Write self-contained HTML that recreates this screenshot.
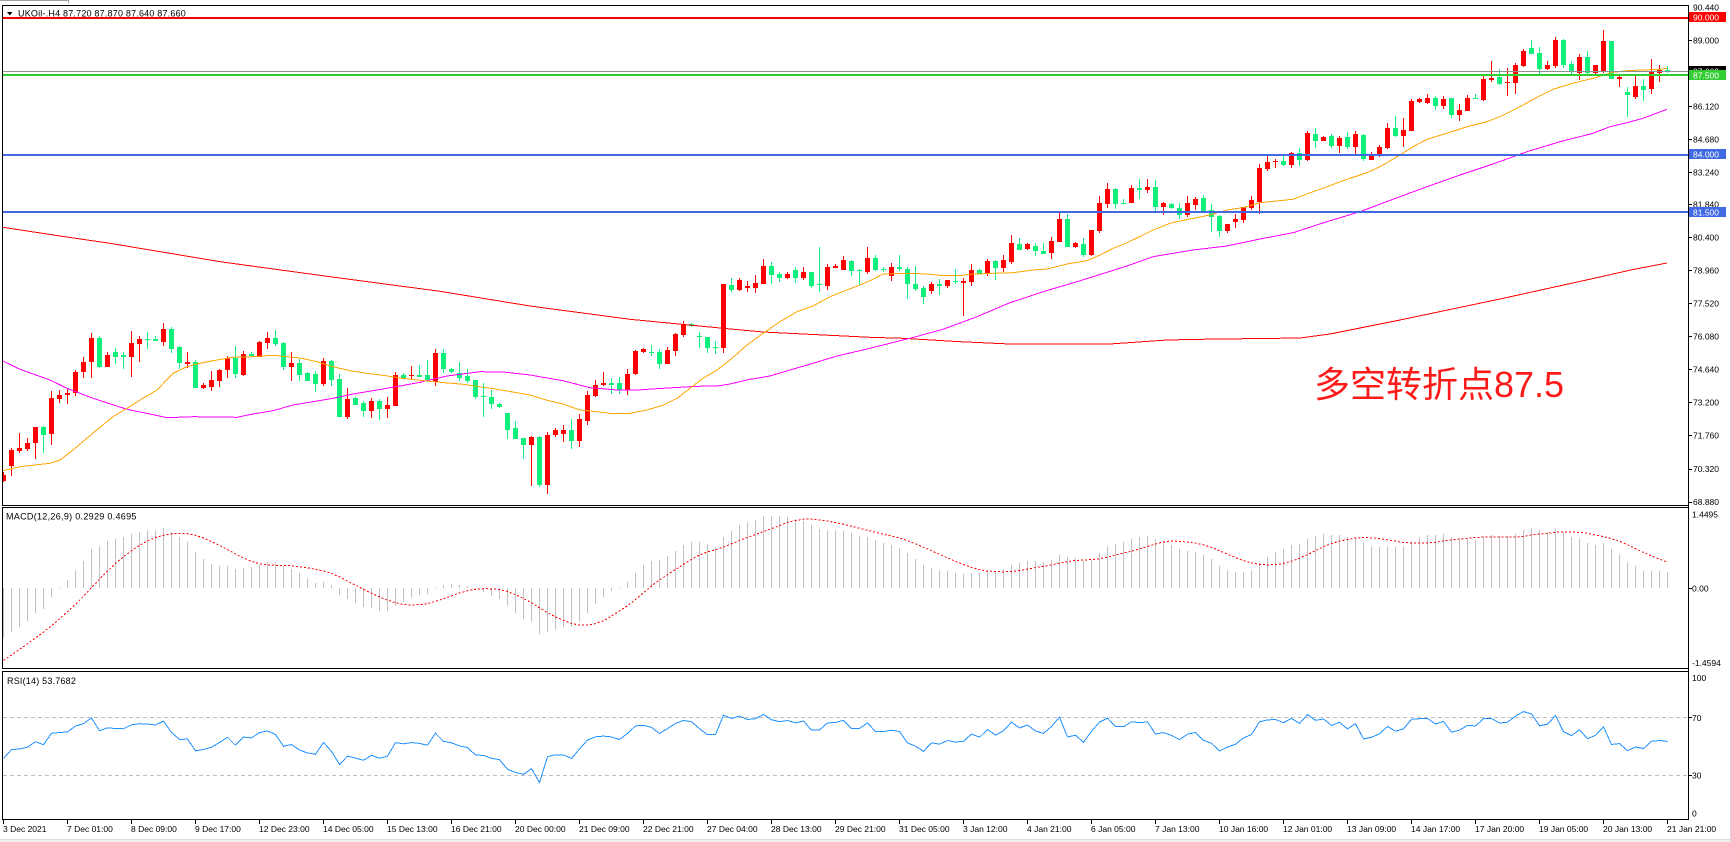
<!DOCTYPE html>
<html><head><meta charset="utf-8">
<style>
html,body{margin:0;padding:0;background:#fff;}
body{width:1731px;height:842px;overflow:hidden;position:relative;}
svg{position:absolute;left:0;top:0;}
text{font-family:"Liberation Sans",sans-serif;font-size:8.5px;fill:#000;}
.w{fill:#fff;}
</style></head><body>
<svg id="s" width="1731" height="842" viewBox="0 0 1731 842" shape-rendering="crispEdges">
<defs>
<clipPath id="cm"><rect x="3" y="6" width="1685" height="499"/></clipPath>
<clipPath id="cd"><rect x="3" y="508" width="1685" height="160"/></clipPath>
<clipPath id="cr"><rect x="3" y="672" width="1685" height="147"/></clipPath>
</defs>
<rect x="0" y="0" width="1731" height="842" fill="#fff"/>
<rect x="0" y="0" width="68" height="1" fill="#a0a0a0"/>
<rect x="68" y="0" width="1" height="3" fill="#a0a0a0"/>
<rect x="0" y="839" width="1731" height="3" fill="#efefef"/>
<rect x="0" y="839" width="1731" height="1" fill="#dadada"/>
<rect x="1730" y="0" width="1" height="842" fill="#d8d8d8"/>

<!-- main pane content -->
<g clip-path="url(#cm)">
  <g id="cdl"></g>
  <g id="ma"></g>
  <rect x="3" y="17" width="1685" height="2" fill="#ff0000"/>
  <rect x="3" y="71" width="1685" height="1" fill="#909090"/>
  <rect x="3" y="74" width="1685" height="2" fill="#32cd32"/>
  <rect x="3" y="154" width="1685" height="2" fill="#4169e1"/>
  <rect x="3" y="211" width="1685" height="2" fill="#4169e1"/>
</g>
<g clip-path="url(#cd)"><g id="macd"></g></g>
<g clip-path="url(#cr)">
  <line x1="3" y1="717.5" x2="1688" y2="717.5" stroke="#c0c0c0" stroke-dasharray="4,3"/>
  <line x1="3" y1="775.5" x2="1688" y2="775.5" stroke="#c0c0c0" stroke-dasharray="4,3"/>
  <g id="rsi"></g>
</g>

<!-- pane borders -->
<rect x="2" y="5" width="1" height="500" fill="#000"/>
<rect x="2" y="5" width="1687" height="1" fill="#000"/>
<rect x="2" y="505" width="1687" height="1" fill="#000"/>
<rect x="2" y="507" width="1687" height="1" fill="#000"/>
<rect x="2" y="507" width="1" height="162" fill="#000"/>
<rect x="2" y="668" width="1687" height="1" fill="#000"/>
<rect x="2" y="671" width="1687" height="1" fill="#000"/>
<rect x="2" y="671" width="1" height="149" fill="#000"/>
<rect x="2" y="819" width="1687" height="1" fill="#000"/>
<rect x="1688" y="5" width="1" height="815" fill="#000"/>

<!-- header -->
<polygon points="7,12 12.5,12 9.75,15.5" fill="#000" shape-rendering="auto"/>
<text x="18" y="16.5" style="font-size:9px;letter-spacing:0.2px">UKOil-.H4  87.720 87.870 87.640 87.660</text>
<text x="6" y="519.5" style="font-size:9px;letter-spacing:0.3px">MACD(12,26,9) 0.2929 0.4695</text>
<text x="7" y="684" style="font-size:9px;letter-spacing:0.2px">RSI(14) 53.7682</text>

<!-- price axis ticks -->
<g fill="#000">
<rect x="1688" y="40" width="4" height="1"/><rect x="1688" y="106" width="4" height="1"/>
<rect x="1688" y="139" width="4" height="1"/><rect x="1688" y="172" width="4" height="1"/>
<rect x="1688" y="204" width="4" height="1"/><rect x="1688" y="237" width="4" height="1"/>
<rect x="1688" y="270" width="4" height="1"/><rect x="1688" y="303" width="4" height="1"/>
<rect x="1688" y="336" width="4" height="1"/><rect x="1688" y="369" width="4" height="1"/>
<rect x="1688" y="402" width="4" height="1"/><rect x="1688" y="435" width="4" height="1"/>
<rect x="1688" y="469" width="4" height="1"/><rect x="1688" y="502" width="4" height="1"/>
<rect x="1688" y="588" width="4" height="1"/><rect x="1688" y="717" width="4" height="1"/>
<rect x="1688" y="775" width="4" height="1"/>
</g>
<text x="1693" y="10.5">90.440</text>
<text x="1693" y="43.5">89.000</text>
<text x="1693" y="109.5">86.120</text>
<text x="1693" y="142.5">84.680</text>
<text x="1693" y="175.5">83.240</text>
<text x="1693" y="207.5">81.840</text>
<text x="1693" y="240.5">80.400</text>
<text x="1693" y="273.5">78.960</text>
<text x="1693" y="306.5">77.520</text>
<text x="1693" y="339.5">76.080</text>
<text x="1693" y="372.5">74.640</text>
<text x="1693" y="405.5">73.200</text>
<text x="1693" y="438.5">71.760</text>
<text x="1693" y="472">70.320</text>
<text x="1693" y="505">68.880</text>

<rect x="1689" y="12" width="37" height="10" fill="#ff0000"/>
<text class="w" x="1693" y="20.5">90.000</text>
<rect x="1689" y="66" width="37" height="10" fill="#000"/>
<text class="w" x="1693" y="74.5">87.660</text>
<rect x="1689" y="70" width="37" height="10" fill="#32cd32"/>
<text class="w" x="1693" y="78.5">87.500</text>
<rect x="1689" y="149" width="37" height="10" fill="#4169e1"/>
<text class="w" x="1693" y="157.5">84.000</text>
<rect x="1689" y="207" width="37" height="10" fill="#4169e1"/>
<text class="w" x="1693" y="215.5">81.500</text>

<text x="1692" y="517.5">1.4495</text>
<text x="1692" y="591.5">0.00</text>
<text x="1692" y="666">-1.4594</text>
<text x="1692" y="681">100</text>
<text x="1692" y="721">70</text>
<text x="1692" y="778.5">30</text>
<text x="1692" y="816.5">0</text>

<!-- time axis -->
<g fill="#000">
<rect x="3" y="819" width="1" height="5"/><rect x="67" y="819" width="1" height="5"/><rect x="131" y="819" width="1" height="5"/>
<rect x="195" y="819" width="1" height="5"/><rect x="259" y="819" width="1" height="5"/><rect x="323" y="819" width="1" height="5"/>
<rect x="387" y="819" width="1" height="5"/><rect x="451" y="819" width="1" height="5"/><rect x="515" y="819" width="1" height="5"/>
<rect x="579" y="819" width="1" height="5"/><rect x="643" y="819" width="1" height="5"/><rect x="707" y="819" width="1" height="5"/>
<rect x="771" y="819" width="1" height="5"/><rect x="835" y="819" width="1" height="5"/><rect x="899" y="819" width="1" height="5"/>
<rect x="963" y="819" width="1" height="5"/><rect x="1027" y="819" width="1" height="5"/><rect x="1091" y="819" width="1" height="5"/>
<rect x="1155" y="819" width="1" height="5"/><rect x="1219" y="819" width="1" height="5"/><rect x="1283" y="819" width="1" height="5"/>
<rect x="1347" y="819" width="1" height="5"/><rect x="1411" y="819" width="1" height="5"/><rect x="1475" y="819" width="1" height="5"/>
<rect x="1539" y="819" width="1" height="5"/><rect x="1603" y="819" width="1" height="5"/><rect x="1667" y="819" width="1" height="5"/>
</g>
<g style="font-size:8.7px">
<text x="3" y="832">3 Dec 2021</text>
<text x="67" y="832">7 Dec 01:00</text>
<text x="131" y="832">8 Dec 09:00</text>
<text x="195" y="832">9 Dec 17:00</text>
<text x="259" y="832">12 Dec 23:00</text>
<text x="323" y="832">14 Dec 05:00</text>
<text x="387" y="832">15 Dec 13:00</text>
<text x="451" y="832">16 Dec 21:00</text>
<text x="515" y="832">20 Dec 00:00</text>
<text x="579" y="832">21 Dec 09:00</text>
<text x="643" y="832">22 Dec 21:00</text>
<text x="707" y="832">27 Dec 04:00</text>
<text x="771" y="832">28 Dec 13:00</text>
<text x="835" y="832">29 Dec 21:00</text>
<text x="899" y="832">31 Dec 05:00</text>
<text x="963" y="832">3 Jan 12:00</text>
<text x="1027" y="832">4 Jan 21:00</text>
<text x="1091" y="832">6 Jan 05:00</text>
<text x="1155" y="832">7 Jan 13:00</text>
<text x="1219" y="832">10 Jan 16:00</text>
<text x="1283" y="832">12 Jan 01:00</text>
<text x="1347" y="832">13 Jan 09:00</text>
<text x="1411" y="832">14 Jan 17:00</text>
<text x="1475" y="832">17 Jan 20:00</text>
<text x="1539" y="832">19 Jan 05:00</text>
<text x="1603" y="832">20 Jan 13:00</text>
<text x="1667" y="832">21 Jan 21:00</text>
</g>

<text x="1314" y="397" style="font-family:'Liberation Sans','Noto Sans CJK SC',sans-serif;font-size:36px;fill:#ff1a1a">多空转折点87.5</text>
</svg>

<script>
(function(){
const G=[[220,[[1,765,782,755,785],[1,690,738,684,768],[1,684,692,640,698],[1,669,687,655,692],[1,621,668,621,716],[0,621,645,617,698],[1,534,641,513,675],[1,525,536,510,548],[1,519,524,505,551],[1,456,518,450,527],
[1,426,455,410,473],[1,354,425,340,473],[0,354,441,349,443],[1,405,440,396,440],[0,396,410,384,431],[0,405,412,396,446],[1,369,410,333,470],[1,357,371,348,425],[0,357,359,336,386],[0,357,364,348,364],
[1,327,365,309,378],[0,327,386,321,398],[0,381,428,378,446],[1,426,431,396,443],[0,426,503,420,503],[1,495,503,489,506],[1,480,500,453,512],[1,450,482,447,500],[1,414,449,408,473],[0,414,461,378,473],
[1,402,465,393,467],[0,402,408,396,408],[1,366,411,363,411],[1,354,368,336,386],[0,354,372,330,377],[0,369,440,366,449],[1,429,440,396,482],[0,429,464,417,482],[0,459,482,456,483],[0,462,491,453,515],
[1,423,491,413,497],[0,423,480,420,497],[0,477,590,462,590],[1,537,590,504,596],[0,534,554,531,554],[0,549,573,543,590],[1,543,572,534,593],[0,543,567,537,599],[1,555,566,531,593],[1,465,557,456,557],
[0,465,473,459,473],[1,465,468,438,477],[0,465,470,435,470],[0,465,480,420,487],[1,399,487,387,497]]],
[220,[[0,399,446,387,458],[0,447,455,443,458],[0,460,473,426,482],[0,468,483,447,488],[0,480,530,480,536],[0,528,532,489,590],[0,531,551,510,566],[0,551,560,548,563],[0,579,629,579,656],[0,624,656,603,656],
[0,654,674,654,716],[1,651,674,648,797],[0,651,795,648,800],[1,645,794,636,821],[1,630,644,624,650],[1,630,641,615,665],[0,630,662,597,686],[1,597,662,582,680],[1,525,602,513,614],[1,495,527,480,530],
[1,489,494,456,497],[0,489,494,474,521],[0,489,510,471,521],[1,462,510,447,524],[1,393,462,390,465],[1,387,395,384,398],[0,396,398,375,407],[0,396,431,387,446],[1,390,431,381,431],[1,342,392,339,407],
[1,312,344,303,350],[0,312,318,309,320],[0,348,352,336,383],[0,351,383,351,398],[0,380,382,363,401],[1,192,383,192,398],[0,195,210,174,216],[1,180,210,174,213],[1,198,203,183,216],[1,189,203,165,218],
[1,138,191,117,191],[0,138,164,126,191],[0,162,174,156,186],[1,162,174,156,177],[0,150,173,141,189],[1,156,174,141,180],[0,156,197,156,203],[0,192,195,81,215],[1,141,197,132,209],[1,138,143,132,143],
[1,120,149,108,150],[0,123,153,120,168],[0,150,153,147,195],[1,114,156,81,162]]],
[120,[[0,414,449,405,452],[0,447,449,440,455],[1,441,467,429,482],[0,441,446,405,452],[0,447,491,440,536],[0,492,506,438,512],[0,504,530,498,551],[1,491,512,486,521],[0,491,497,477,524],[1,480,498,480,503],
[0,484,486,447,492],[1,483,488,474,587],[1,450,485,432,497],[0,450,461,447,461],[1,423,461,417,467],[0,423,443,420,479],[1,420,443,405,455],[1,369,426,345,431],[0,372,389,354,389],[1,372,386,369,389],
[0,377,392,369,407],[0,393,401,369,403],[1,363,398,351,416],[1,297,365,279,365],[0,297,380,282,380],[1,369,380,366,383],[0,372,404,354,410],[1,330,404,330,407],[1,249,332,228,338],[1,207,251,189,263],
[0,207,251,204,266],[0,249,251,237,251],[1,204,248,195,248],[0,204,209,177,237],[1,201,209,177,218],[0,201,260,180,272],[1,249,260,246,284],[0,252,263,249,266],[0,264,284,249,296],[1,249,284,228,290],
[1,237,254,231,269],[0,234,275,225,275],[0,270,290,252,335],[0,288,332,285,350],[1,312,332,312,338],[1,297,305,282,323],[1,261,300,261,308],[1,240,263,228,269],[1,144,245,132,281],[1,126,146,105,152],
[1,122,125,117,143],[0,123,135,105,137],[1,99,134,96,143]]],
[10,[[0,429,449,414,467],[1,369,450,363,453],[0,372,393,354,413],[1,381,392,378,392],[0,378,408,372,413],[1,383,407,378,428],[0,381,411,366,417],[1,372,411,363,432],[0,375,446,372,452],[1,435,450,426,450],
[1,411,435,405,441],[1,354,414,339,416],[0,354,378,318,381],[1,360,378,324,411],[1,273,362,267,362],[1,267,276,264,279],[1,264,279,252,282],[0,264,288,258,299],[1,267,287,258,296],[0,264,315,264,323],
[1,300,314,282,332],[1,264,302,255,302],[0,264,266,251,266],[1,207,270,195,272],[1,204,209,153,216],[0,201,222,177,224],[1,216,220,174,258],[1,165,219,159,252],[1,123,168,117,171],[0,114,131,90,131],
[0,129,177,111,192],[1,165,177,153,180],[1,90,168,81,174],[0,90,165,87,174],[0,162,186,153,192],[1,141,190,132,211],[0,141,190,123,192],[1,165,189,165,192],[1,93,183,60,189],[0,93,207,93,207],
[1,201,206,195,231],[0,246,255,231,321],[1,228,260,198,267],[0,228,240,207,273],[1,186,237,147,252],[1,180,189,165,216],[0,180,186,168,190]]]];

const bars=[];
G.forEach(g=>{const y0=g[0];g[1].forEach(c=>bars.push([c[0],y0+c[1]/3,y0+c[2]/3,y0+c[3]/3,y0+c[4]/3]));});

let h='';
bars.forEach((b,i)=>{
  const cx=3+8*i, col=b[0]?'#ff0000':'#10ee7c';
  const wt=Math.round(b[3]), wb=Math.round(b[4]), bt=Math.round(b[1]), bb=Math.round(b[2]);
  h+='<rect x="'+cx+'" y="'+Math.min(wt,bt)+'" width="1" height="'+Math.max(1,Math.max(wb,bb)-Math.min(wt,bt))+'" fill="'+col+'"/>';
  h+='<rect x="'+(cx-2)+'" y="'+bt+'" width="5" height="'+Math.max(1,bb-bt)+'" fill="'+col+'"/>';
});
document.getElementById('cdl').innerHTML=h;

function pl(pts,col,extra){return '<polyline fill="none" stroke="'+col+'" stroke-width="1" '+(extra||'')+' points="'+pts.map(p=>p[0]+','+p[1]).join(' ')+'"/>';}
const red=[[3,227.3],[60,236],[110,243.3],[220,261.7],[330,276.7],[440,291.3],[530,306],[630,319.3],[720,328],[763,332],[870,337.3],[903,338.3],[960,341.7],[1010,344],[1110,344],[1167,340],[1200,339.3],[1300,338],[1330,334],[1400,320],[1500,299],[1600,277],[1633,269.5],[1667,263]];
const org=[[3,470.7],[20,466.7],[50,463.3],[60,460],[73,450],[93,433],[113,416.7],[127,408.3],[140,400],[157,390],[173,373.3],[187,366.7],[200,363.3],[213,360.7],[233,357.3],[253,356.7],[273,355.3],[287,356.7],[300,358],[317,361.7],[333,366.7],[350,370.7],[367,373.3],[383,375.3],[400,378],[417,380],[440,382.3],[463,384.3],[497,389.3],[530,395],[547,400.3],[563,404],[580,410],[597,411.7],[610,413.3],[630,413.3],[647,410],[663,405.3],[677,398.3],[690,388.3],[703,378.3],[717,370],[730,360],[747,345],[763,333.3],[780,321.7],[797,311.7],[813,306],[830,296.7],[847,290],[860,285],[873,279.3],[883,274],[910,273.3],[927,274],[940,275.3],[960,275.7],[970,274.3],[993,273.3],[1013,272.7],[1033,270],[1047,269],[1067,264],[1087,260.7],[1100,255],[1113,248.3],[1127,242.7],[1143,235],[1153,230],[1170,223.3],[1193,218.3],[1210,215],[1227,210],[1243,207.7],[1260,202.7],[1293,199.3],[1313,191.7],[1327,186.7],[1347,179.3],[1367,172.7],[1380,166.7],[1400,155],[1413,146.7],[1427,139.3],[1447,133.3],[1467,126.7],[1487,121.7],[1503,115.3],[1520,106.7],[1537,97.3],[1553,89.3],[1573,83.3],[1593,78.3],[1607,74],[1613,72.3],[1627,70.7],[1643,70],[1660,69.3],[1667,68.3]];
const mag=[[3,361],[20,369.3],[50,380],[67,388.3],[93,398.3],[127,409.3],[150,414],[167,417.7],[193,416.7],[217,417],[237,417.3],[253,414],[273,410.7],[293,405],[317,401],[333,398.3],[353,394],[373,390.7],[400,386],[420,382.3],[447,376],[480,371.7],[503,372],[530,375],[563,380.7],[590,387.7],[617,390],[637,390],[663,388.3],[697,386.3],[717,386],[730,384],[750,379.3],[770,376],[790,370],[813,363.3],[837,356],[870,348.3],[910,338.3],[943,329.3],[977,316.7],[1010,302.7],[1043,291.7],[1077,281.7],[1093,276.7],[1127,266],[1153,256.7],[1193,250],[1227,246],[1260,239],[1293,232.7],[1327,221.7],[1360,211.7],[1393,199.3],[1427,186.7],[1460,175],[1493,164],[1527,151.7],[1560,141.7],[1593,133.3],[1610,126.7],[1627,122.7],[1643,118.3],[1667,109.3]];
document.getElementById('ma').innerHTML=pl(red,'#ff0000')+pl(mag,'#ff00ff')+pl(org,'#ffa500');

/* indicators from closes */
const closes=bars.map(b=>68.88+(502-(b[0]?b[1]:b[2]))/22.96);
let e12=70.665,e26=71.58;const m=[];
closes.forEach((c,i)=>{if(i>0){e12+=(c-e12)*2/13;e26+=(c-e26)*2/27;}m.push(e12-e26);});
const hist=[];for(let j=8;j>=1;j--)hist.push(m[0]-0.101*j);
const all=hist.concat(m);
const sig=m.map((v,i)=>{let s=0;for(let j=i;j<i+9;j++)s+=all[j];return s/9;});
const MS=55,Z=588;
let mh='';
m.forEach((v,i)=>{const cx=3+8*i;const y=Z-MS*v;const t=Math.round(Math.min(y,Z)),b=Math.round(Math.max(y,Z));
  mh+='<rect x="'+cx+'" y="'+t+'" width="1" height="'+Math.max(1,b-t)+'" fill="#c0c0c0"/>';});
mh+=pl(sig.map((v,i)=>[3+8*i+0.5,(Z-MS*v).toFixed(1)]),'#ff0000','stroke-dasharray="2,2"');
document.getElementById('macd').innerHTML=mh;

let Gn=0.3,Ls=0.42;const rsi=[100-100/(1+Gn/Ls)];
for(let i=1;i<closes.length;i++){const d=closes[i]-closes[i-1];Gn=(Gn*13+Math.max(d,0))/14;Ls=(Ls*13+Math.max(-d,0))/14;rsi.push(100-100/(1+Gn/Ls));}
document.getElementById('rsi').innerHTML=pl(rsi.map((v,i)=>[3+8*i+0.5,(818.6-1.445*v).toFixed(1)]),'#1e90ff');
})();
</script>
</body></html>
